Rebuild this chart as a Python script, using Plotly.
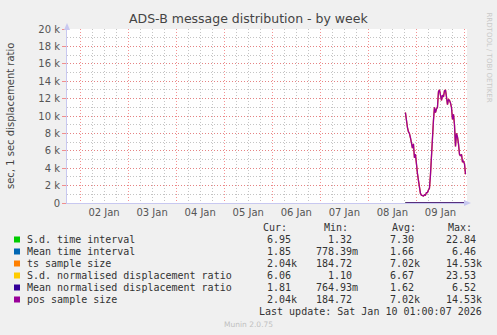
import pandas as pd
import plotly.graph_objects as go

# ---------------- data ----------------
series_names = ["S.d. time interval", "Mean time interval", "ts sample size",
                "S.d. normalised displacement ratio", "Mean normalised displacement ratio",
                "pos sample size"]
series_colors = ["#00CC00", "#0066B3", "#FF8000", "#FFCC00", "#330099", "#990099"]

# sample size (ts == pos), 30-minute averages starting 2026-01-08 18:30
sample_start = "2026-01-08 18:30"
sample_size = [10400, 9400, 8700, 8200, 8000, 7500, 6600, 6300, 6800, 5200,
               5600, 4200, 3400, 2600, 1800, 1100, 900, 850, 800, 950,
               900, 1200, 1200, 1500, 1700, 3200, 6000, 7800, 9500, 11000,
               10400, 10800, 11000, 12800, 13000, 12400, 11800, 12400, 12200, 12900,
               13000, 12200, 11300, 11900, 11800, 11500, 11000, 9600, 10200, 9000,
               6500, 8000, 7600, 6800, 5600, 5400, 5600, 4700, 4800, 4500,
               3300]

# small-valued series (sit on the zero line)
small_times = ["2026-01-08 18:30", "2026-01-09 00:00", "2026-01-09 04:00",
               "2026-01-09 12:00", "2026-01-09 18:00", "2026-01-10 00:30"]
sd_time = [5.5, 12.0, 18.0, 4.0, 3.5, 6.95]
mean_time = [1.4, 2.8, 5.0, 1.0, 0.9, 1.85]
sd_norm = [5.0, 11.0, 17.0, 3.8, 3.3, 6.06]
mean_norm = [1.4, 2.7, 5.2, 1.0, 0.9, 1.81]

# legend statistics
stat_cur = [6.95, 1.85, 2040, 6.06, 1.81, 2040]
stat_min = [1.32, 0.77839, 184.72, 1.10, 0.76493, 184.72]
stat_avg = [7.30, 1.66, 7020, 6.67, 1.62, 7020]
stat_max = [22.84, 6.46, 14530, 23.53, 6.52, 14530]

y_tickvals = [0, 2000, 4000, 6000, 8000, 10000, 12000, 14000, 16000, 18000, 20000]
y_ticktext = ["0", "2 k", "4 k", "6 k", "8 k", "10 k", "12 k", "14 k", "16 k", "18 k", "20 k"]

x_range = ["2026-01-01 17:30", "2026-01-10 01:15"]

# ---------------- figure ----------------
W, H = 497, 335
L, R, T, B = 67, 30, 29, 132
PW, PH = W - L - R, H - T - B


def px(x):
    return (x - L) / PW


def py(y):
    return (H - B - y) / PH


sample_times = pd.date_range(sample_start, periods=len(sample_size), freq="30min")

fig = go.Figure()
small_vals = [sd_time, mean_time, None, sd_norm, mean_norm, None]
for i, name in enumerate(series_names):
    if small_vals[i] is not None:
        xs, ys = pd.to_datetime(small_times), small_vals[i]
    else:
        xs, ys = sample_times, sample_size
    fig.add_trace(go.Scatter(x=xs, y=ys, mode="lines", name=name,
                             line=dict(color=series_colors[i], width=1.3),
                             showlegend=False, hoverinfo="skip"))

grid_major = "rgba(240,110,110,0.75)"
grid_minor = "rgba(190,190,190,0.9)"

fig.update_layout(
    width=W, height=H,
    margin=dict(l=L, r=R, t=T, b=B, pad=0),
    paper_bgcolor="#F0F0F0", plot_bgcolor="#FFFFFF",
    font=dict(family="DejaVu Sans", size=10, color="#555555"),
    showlegend=False,
)
fig.update_xaxes(
    type="date", range=x_range,
    tick0="2026-01-02", dtick=86400000, ticklabelmode="period", tickformat="%d %b",
    showgrid=True, gridcolor=grid_major, griddash="1px,2px", gridwidth=1,
    minor=dict(dtick=21600000, showgrid=True, gridcolor=grid_minor, griddash="1px,2px",
               gridwidth=1),
    showline=True, linecolor="#C8C8F0", linewidth=1,
    ticks="", tickfont=dict(size=10, color="#555555"),
    zeroline=False, fixedrange=True,
)
fig.update_yaxes(
    range=[0, 20000], tickvals=y_tickvals, ticktext=y_ticktext,
    showgrid=True, gridcolor=grid_major, griddash="1px,2px", gridwidth=1,
    minor=dict(dtick=1000, showgrid=True, gridcolor=grid_minor, griddash="1px,2px",
               gridwidth=1),
    showline=True, linecolor="#C8C8F0", linewidth=1,
    ticks="outside", ticklen=4, tickcolor=grid_major,
    tickfont=dict(size=10, color="#555555"),
    zeroline=False, fixedrange=True,
)

ann = []
shapes = []
# axis arrows
shapes.append(dict(type="path", xref="paper", yref="paper",
                   path=f"M {px(464)} {py(200)} L {px(471)} {py(203)} L {px(464)} {py(206)} Z",
                   fillcolor="#C8C8F0", line=dict(width=0)))
shapes.append(dict(type="path", xref="paper", yref="paper",
                   path=f"M {px(64)} {py(30)} L {px(67)} {py(23)} L {px(70)} {py(30)} Z",
                   fillcolor="#C8C8F0", line=dict(width=0)))

# title
ann.append(dict(text="ADS-B message distribution - by week", x=px(248), y=py(19),
                xref="paper", yref="paper", showarrow=False, xanchor="center", yanchor="middle",
                font=dict(family="DejaVu Sans", size=12.5, color="#444444")))
# y axis title
ann.append(dict(text="sec, 1 sec displacement ratio", x=px(10), y=py(116),
                xref="paper", yref="paper", showarrow=False, textangle=-90,
                xanchor="center", yanchor="middle",
                font=dict(family="DejaVu Sans", size=10, color="#444444")))
# rrdtool watermark
ann.append(dict(text="RRDTOOL / TOBI OETIKER", x=px(488.5), y=py(57),
                xref="paper", yref="paper", showarrow=False, textangle=90,
                xanchor="center", yanchor="middle",
                font=dict(family="DejaVu Sans", size=7, color="#C8C8C8")))
# munin footer
ann.append(dict(text="Munin 2.0.75", x=px(248), y=py(324),
                xref="paper", yref="paper", showarrow=False, xanchor="center", yanchor="middle",
                font=dict(family="DejaVu Sans", size=7.5, color="#C0C0C0")))

mono = dict(family="DejaVu Sans Mono", size=10, color="#333333")
CH = 6.02
for hdr, x0 in zip(["Cur:", "Min:", "Avg:", "Max:"], [262, 323, 391, 447]):
    ann.append(dict(text=hdr, x=px(x0), y=py(227.5), xref="paper", yref="paper",
                    showarrow=False, xanchor="left", yanchor="middle", font=mono))


def fmt(v):
    if v >= 1000:
        return f"{v/1000:.2f}k", True
    if v < 1:
        return f"{v*1000:.2f}m", True
    return f"{v:.2f}", False


col_edges = [297.7, 359.3, 421.0, 482.7]
row_y = [239.5, 251.5, 263.5, 275.5, 287.5, 299.5]
for i, name in enumerate(series_names):
    yy = row_y[i]
    shapes.append(dict(type="rect", xref="paper", yref="paper",
                       x0=px(14), x1=px(20), y0=py(yy - 3), y1=py(yy + 3),
                       fillcolor=series_colors[i], line=dict(width=0)))
    ann.append(dict(text=name, x=px(26), y=py(yy), xref="paper", yref="paper",
                    showarrow=False, xanchor="left", yanchor="middle", font=mono))
    for col, vals in enumerate([stat_cur, stat_min, stat_avg, stat_max]):
        s, suf = fmt(vals[i])
        edge = col_edges[col] if suf else col_edges[col] - CH
        ann.append(dict(text=s, x=px(edge), y=py(yy), xref="paper", yref="paper",
                        showarrow=False, xanchor="right", yanchor="middle", font=mono))

ann.append(dict(text="Last update: Sat Jan 10 01:00:07 2026", x=px(482.7), y=py(311.5),
                xref="paper", yref="paper", showarrow=False, xanchor="right",
                yanchor="middle", font=mono))

for a in ann:
    a.setdefault("borderpad", 0)
fig.update_layout(annotations=ann, shapes=shapes)

fig.write_html("out.html", config={"displayModeBar": False, "staticPlot": True})
